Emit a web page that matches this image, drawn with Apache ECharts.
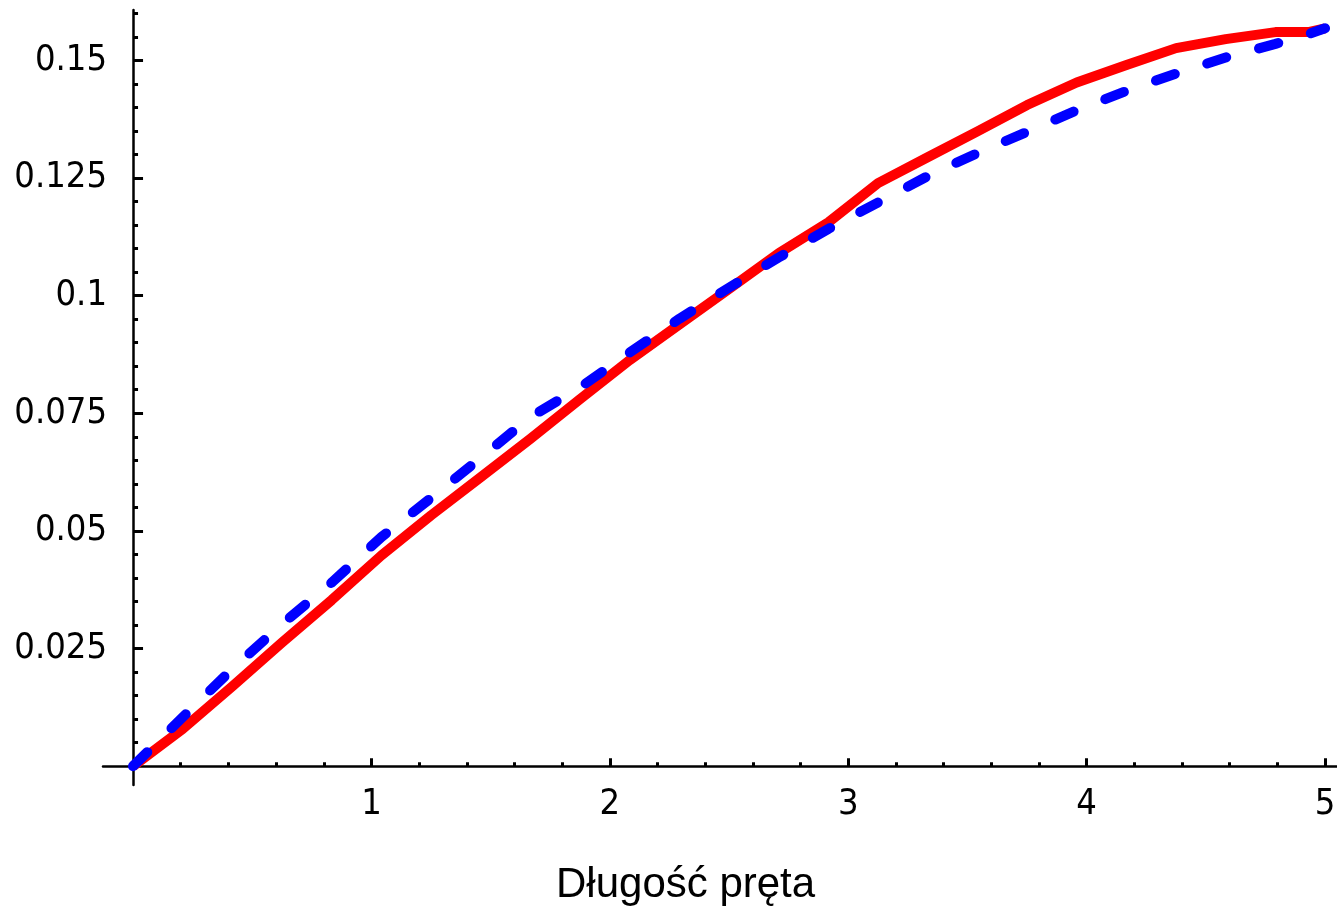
<!DOCTYPE html>
<html>
<head>
    <meta charset="utf-8"/>
    <title>Długość pręta</title>
    <script src="https://cdn.jsdelivr.net/npm/echarts@6/dist/echarts.min.js"></script>
    <style>
        html, body { margin: 0; padding: 0; background: #fff; }
        #chart { width: 1337px; height: 906px; }
    </style>
</head>
<body>
<div id="chart"></div>
<script>
    // dane
    var xs = [0, 0.208, 0.417, 0.625, 0.833, 1.042, 1.25, 1.458, 1.667, 1.875, 2.083, 2.292, 2.5,
        2.708, 2.917, 3.125, 3.333, 3.542, 3.75, 3.958, 4.167, 4.375, 4.583, 4.792, 4.93, 5.0];
    var red = [0, 0.0079, 0.0170, 0.0263, 0.0353, 0.0448, 0.0533, 0.0614, 0.0696, 0.0780, 0.0863, 0.0939, 0.1014,
        0.1090, 0.1156, 0.1239, 0.1294, 0.1349, 0.1405, 0.1453, 0.1490, 0.1526, 0.1545, 0.1560, 0.1560, 0.1568];
    var blue = [0, 0.0104, 0.0207, 0.0302, 0.0390, 0.0487, 0.0570, 0.0655, 0.0742, 0.0805, 0.0879, 0.0951, 0.1017,
        0.1081, 0.1142, 0.1198, 0.1254, 0.1303, 0.1348, 0.1394, 0.1435, 0.1472, 0.1506, 0.1535, 0.1556, 0.1568];

    var xLabels = [1, 2, 3, 4, 5];
    var xMinor = [0.2, 0.4, 0.6, 0.8, 1.2, 1.4, 1.6, 1.8, 2.2, 2.4, 2.6, 2.8, 3.2, 3.4, 3.6, 3.8,
        4.2, 4.4, 4.6, 4.8];
    var yLabels = [0.025, 0.05, 0.075, 0.1, 0.125, 0.15];
    var yMinor = [0.005, 0.01, 0.015, 0.02, 0.03, 0.035, 0.04, 0.045, 0.055, 0.06, 0.065, 0.07,
        0.08, 0.085, 0.09, 0.095, 0.105, 0.11, 0.115, 0.12, 0.13, 0.135, 0.14, 0.145, 0.155, 0.16];

    var tickFont = '"DejaVu Sans Condensed", "DejaVu Sans", sans-serif';
    var axisColor = '#000';

    var chart = echarts.init(document.getElementById('chart'), null, {renderer: 'canvas'});

    function pairs(ys) {
        return xs.map(function (x, i) { return [x, ys[i]]; });
    }

    var option = {
        animation: false,
        backgroundColor: '#fff',
        title: {
            text: 'Długość pręta',
            left: 551,
            top: 859,
            textStyle: {
                fontFamily: '"Liberation Sans", Arial, sans-serif',
                fontWeight: 'normal',
                fontSize: 42,
                color: '#000'
            }
        },
        grid: {
            left: 103,
            right: 0,
            top: 10,
            bottom: 121,
            outerBoundsMode: 'none',
            containLabel: false
        },
        xAxis: [{
            type: 'value',
            min: -0.126,
            max: 5.05,
            splitLine: {show: false},
            axisLine: {onZero: true, lineStyle: {color: axisColor, width: 2.5}},
            axisTick: {
                show: true, inside: true, length: 4,
                customValues: xMinor,
                lineStyle: {color: axisColor, width: 3}
            },
            axisLabel: {show: false}
        }, {
            type: 'value',
            min: -0.126,
            max: 5.05,
            position: 'bottom',
            splitLine: {show: false},
            axisLine: {show: false, onZero: true},
            axisTick: {
                show: true, inside: true, length: 8,
                customValues: xLabels,
                lineStyle: {color: axisColor, width: 3}
            },
            axisLabel: {
                customValues: xLabels,
                margin: 2,
                fontFamily: tickFont,
                fontSize: 36,
                color: '#000'
            }
        }],
        yAxis: [{
            type: 'value',
            min: -0.004,
            max: 0.1607,
            splitLine: {show: false},
            axisLine: {onZero: true, lineStyle: {color: axisColor, width: 2.5}},
            axisTick: {
                show: true, inside: true, length: 5,
                customValues: yMinor,
                lineStyle: {color: axisColor, width: 3}
            },
            axisLabel: {show: false}
        }, {
            type: 'value',
            min: -0.004,
            max: 0.1607,
            position: 'left',
            splitLine: {show: false},
            axisLine: {show: false, onZero: true},
            axisTick: {
                show: true, inside: true, length: 10,
                customValues: yLabels,
                lineStyle: {color: axisColor, width: 3}
            },
            axisLabel: {
                customValues: yLabels,
                margin: -4,
                fontFamily: tickFont,
                fontSize: 36,
                color: '#000',
                formatter: function (v) { return String(v); }
            }
        }],
        series: [{
            name: 'czerwona',
            type: 'line',
            data: pairs(red),
            showSymbol: false,
            symbol: 'none',
            lineStyle: {color: '#ff0000', width: 10, join: 'round'},
            z: 2
        }, {
            name: 'niebieska',
            type: 'line',
            data: pairs(blue),
            showSymbol: false,
            symbol: 'none',
            lineStyle: {color: '#0000ff', width: 10, type: [20, 34], cap: 'round', join: 'round'},
            z: 3
        }]
    };
    chart.setOption(option);
</script>
</body>
</html>
